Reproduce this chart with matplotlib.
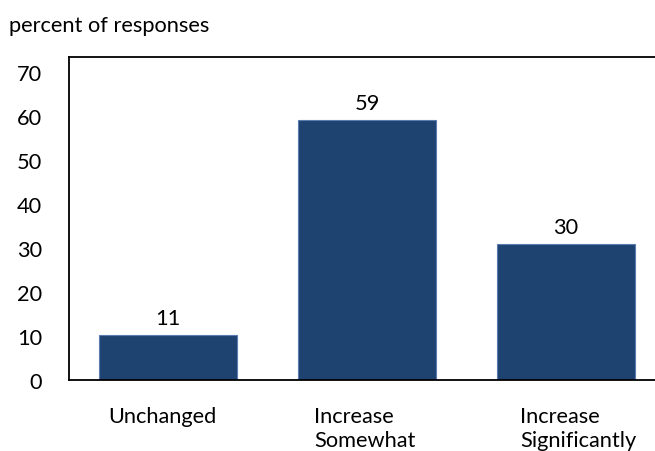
import matplotlib
matplotlib.use("Agg")
import matplotlib.pyplot as plt
import matplotlib.transforms as mtransforms
import numpy as np

# data
categories = ['Unchanged', 'Increase\nSomewhat', 'Increase\nSignificantly']
heights = [10.2, 59.0, 30.8]
value_labels = ['11', '59', '30']
yticks = [0, 10, 20, 30, 40, 50, 60, 70]

plt.rcParams['font.family'] = ['Lato', 'DejaVu Sans']
fs = 15.7

fig = plt.figure(figsize=(6.55, 4.52), dpi=100)
ax = fig.add_axes([68.5 / 655, 1 - 381 / 452, 1 - 68.5 / 655, (381 - 57.5) / 452])

x = np.arange(len(categories))
bars = ax.bar(x, heights, width=0.693, color='#1F4370', edgecolor='#5A7CB0', linewidth=0.8)

for b, lab in zip(bars, value_labels):
    ax.annotate(lab, (b.get_x() + b.get_width() / 2, b.get_height()),
                xytext=(0, 5), textcoords='offset points',
                ha='center', va='bottom', fontsize=fs)

ax.set_xlim(-0.5, -0.5 + (655 - 68.5) / 199)
ax.set_ylim(0, 73.5)
ax.set_yticks(yticks)
ax.set_yticklabels([str(t) for t in yticks], fontsize=fs)
ax.set_xticks(x)
ax.set_xticklabels(categories, fontsize=fs, ha='left', multialignment='left', linespacing=1.2)
ax.tick_params(axis='y', length=0, pad=19)
ax.tick_params(axis='x', length=0, pad=19)

# labels sit as left-aligned text boxes, a bit left of each bar centre
shifts = [-60, -53, -46]
for lbl, dx in zip(ax.get_xticklabels(), shifts):
    lbl.set_transform(lbl.get_transform() + mtransforms.ScaledTranslation(dx / 100, 0, fig.dpi_scale_trans))

for s in ['left', 'bottom', 'top']:
    ax.spines[s].set_linewidth(1.3)
    ax.spines[s].set_color('black')
ax.spines['right'].set_visible(False)

fig.text(9 / 655, 1 - 26 / 452, 'percent of responses', fontsize=fs, va='center', ha='left')

fig.savefig('out.png', dpi=100)
